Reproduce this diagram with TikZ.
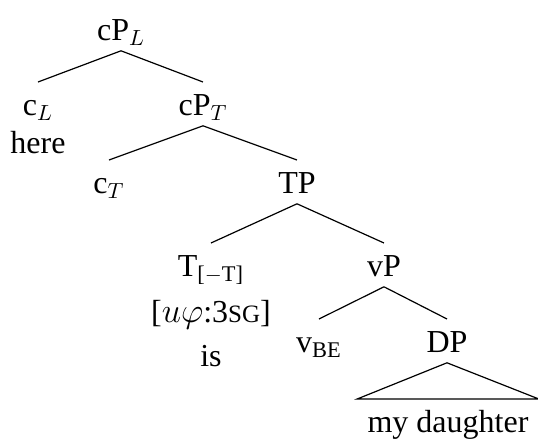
\documentclass[tikz,border=0pt]{standalone}
\usepackage{fontspec}
\setmainfont{Liberation Serif}
\usetikzlibrary{positioning}

\newcommand{\tstrut}{\rule[-5pt]{0pt}{21.5pt}}

\begin{document}
\begin{tikzpicture}[
	every node/.style={
		anchor=north, inner sep=0pt, align=center,
		font=\fontsize{16}{19}\selectfont
	},
	branch/.style={draw, line width=0.6pt}
	]
	% frame of the picture
	\useasboundingbox (0,0) rectangle (269pt,-219.5pt);
	% nodes: cP_L -> (c_L, cP_T) -> (c_T, TP) -> (T, vP) -> (v, DP)
	\node (cpl) at (60.5pt,-3.5pt) {\tstrut cP$_L$};
	\node (cl) at (19pt,-41pt) {\tstrut c$_L$\\here};
	\node (cpt) at (101.5pt,-41pt) {\tstrut cP$_T$};
	\node (ct) at (54.5pt,-80pt) {\tstrut c$_T$};
	\node (tp) at (148.5pt,-80pt) {\tstrut TP};
	\node (t) at (105.5pt,-121.5pt) {\tstrut T\textsubscript{[$-$T]}\\[4pt]{[}$u\varphi$:3{\fontsize{12.5}{19}\selectfont SG}{]}\\[3pt]is};
	\node (vp) at (192pt,-121.5pt) {\tstrut vP};
	\node (v) at (159.5pt,-159.5pt) {\tstrut v\textsubscript{BE}};
	\node (dp) at (223.5pt,-159.5pt) {\tstrut DP};
	\node[inner xsep=5pt] (md) at (224pt,-199.5pt) {\tstrut my daughter};
	% branches
	\draw[branch] (cpl.south) -- (cl.north);
	\draw[branch] (cpl.south) -- (cpt.north);
	\draw[branch] (cpt.south) -- (ct.north);
	\draw[branch] (cpt.south) -- (tp.north);
	\draw[branch] (tp.south) -- (t.north);
	\draw[branch] (tp.south) -- (vp.north);
	\draw[branch] (vp.south) -- (v.north);
	\draw[branch] (vp.south) -- (dp.north);
	% triangle over the DP
	\draw[branch] (dp.south) -- (md.north west) -- (md.north east) -- cycle;
\end{tikzpicture}
\end{document}
